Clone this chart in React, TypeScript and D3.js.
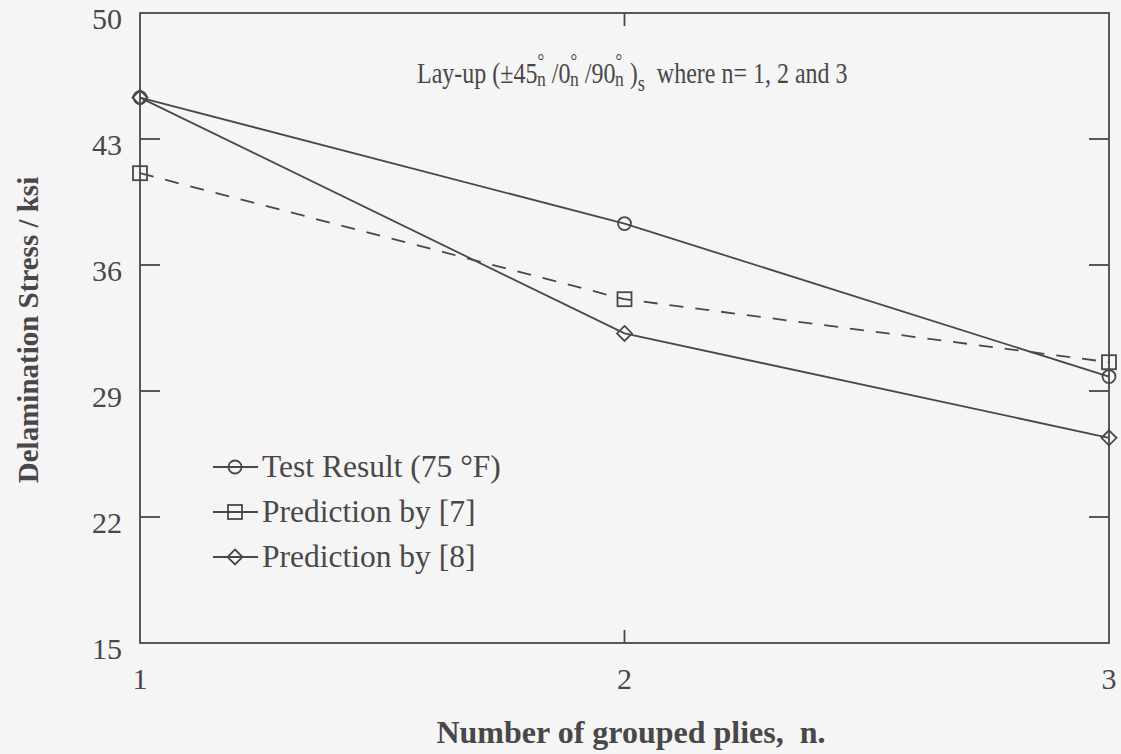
import React from "react";
import * as d3 from "d3";

const plies = [1, 2, 3];
const testResult = [45.3, 38.3, 29.8];
const prediction7 = [41.1, 34.1, 30.6];
const prediction8 = [45.3, 32.2, 26.4];
const yTicks = [15, 22, 29, 36, 43, 50];
const xTicks = [1, 2, 3];
const seriesNames = ["Test Result (75 °F)", "Prediction by [7]", "Prediction by [8]"];

const W = 1121;
const H = 754;
const M = { left: 140, right: 1109, top: 13, bottom: 643 };
const INK = "#4a4748";
const FONT = "'Liberation Serif', 'Times New Roman', serif";

function Marker({ kind, x, y }: { kind: string; x: number; y: number }) {
  if (kind === "circle") return <circle cx={x} cy={y} r={6.5} fill="none" stroke={INK} strokeWidth={1.8} />;
  if (kind === "square") return <rect x={x - 7} y={y - 7} width={14} height={14} fill="none" stroke={INK} strokeWidth={1.8} />;
  return <path d={`M${x},${y - 7.5}L${x + 7.5},${y}L${x},${y + 7.5}L${x - 7.5},${y}Z`} fill="none" stroke={INK} strokeWidth={1.8} />;
}

function Ply({ angle }: { angle: string }) {
  return (
    <>
      <tspan dy={0}>{angle}</tspan>
      <tspan fontSize={21} dy={-15}>°</tspan>
      <tspan fontSize={22} dx={-9} dy={18}>n</tspan>
      <tspan dy={-3}> </tspan>
    </>
  );
}

export default function App() {
  const x = d3.scaleLinear().domain([1, 3]).range([M.left, M.right]);
  const y = d3.scaleLinear().domain([15, 50]).range([M.bottom, M.top]);
  const line = d3.line<[number, number]>().x((d) => x(d[0])).y((d) => y(d[1]));
  const series = [
    { vals: testResult, kind: "circle", dash: undefined as string | undefined },
    { vals: prediction7, kind: "square", dash: "14,12" },
    { vals: prediction8, kind: "diamond", dash: undefined },
  ];
  const legendY = [467, 512, 557];
  return (
    <svg width={W} height={H} style={{ position: "absolute", left: 0, top: 0, background: "#f5f5f5" }} fontFamily={FONT}>
      <rect x={0} y={0} width={W} height={H} fill="#f5f5f5" />
      <rect x={M.left} y={M.top} width={M.right - M.left} height={M.bottom - M.top} fill="none" stroke={INK} strokeWidth={1.8} />
      {yTicks.map((t) => (
        <g key={"y" + t}>
          {t !== 15 && t !== 50 && (
            <>
              <line x1={M.left} x2={M.left + 20} y1={y(t)} y2={y(t)} stroke={INK} strokeWidth={1.8} />
              <line x1={M.right} x2={M.right - 20} y1={y(t)} y2={y(t)} stroke={INK} strokeWidth={1.8} />
            </>
          )}
          <text x={122} y={y(t) + 16} textAnchor="end" fontSize={30} fill={INK}>{t}</text>
        </g>
      ))}
      {xTicks.map((t) => (
        <g key={"x" + t}>
          {t !== 1 && t !== 3 && (
            <>
              <line x1={x(t)} x2={x(t)} y1={M.bottom} y2={M.bottom - 13} stroke={INK} strokeWidth={1.8} />
              <line x1={x(t)} x2={x(t)} y1={M.top} y2={M.top + 13} stroke={INK} strokeWidth={1.8} />
            </>
          )}
          <text x={x(t)} y={689} textAnchor="middle" fontSize={30} fill={INK}>{t}</text>
        </g>
      ))}
      {series.map((s, i) => (
        <g key={"s" + i}>
          <path d={line(plies.map((p, j) => [p, s.vals[j]] as [number, number])) || ""} fill="none" stroke={INK} strokeWidth={1.8} strokeDasharray={s.dash} />
          {plies.map((p, j) => (
            <Marker key={j} kind={s.kind} x={x(p)} y={y(s.vals[j])} />
          ))}
        </g>
      ))}
      {series.map((s, i) => (
        <g key={"l" + i}>
          <line x1={213} x2={258} y1={legendY[i]} y2={legendY[i]} stroke={INK} strokeWidth={1.8} />
          <Marker kind={s.kind} x={235} y={legendY[i]} />
          <text x={262} y={legendY[i] + 10} fontSize={31.5} fill={INK}>{seriesNames[i]}</text>
        </g>
      ))}
      <g transform="translate(417,83) scale(0.8,1)">
        <text x={0} y={0} fontSize={30} fill={INK} style={{ whiteSpace: "pre" }}>
          <tspan>Lay-up (±</tspan>
          <Ply angle="45" />
          <Ply angle="/0" />
          <Ply angle="/90" />
          <tspan>)</tspan>
          <tspan fontSize={23} dy={8}>s</tspan>
          <tspan dy={-8}>{"  where n= 1, 2 and 3"}</tspan>
        </text>
      </g>
      <text x={631} y={743} textAnchor="middle" fontSize={32} fontWeight="bold" fill={INK} style={{ whiteSpace: "pre" }}>
        {"Number of grouped plies,  n."}
      </text>
      <text transform={`translate(38,330) rotate(-90)`} textAnchor="middle" fontSize={29} fontWeight="bold" fill={INK}>
        Delamination Stress / ksi
      </text>
    </svg>
  );
}
